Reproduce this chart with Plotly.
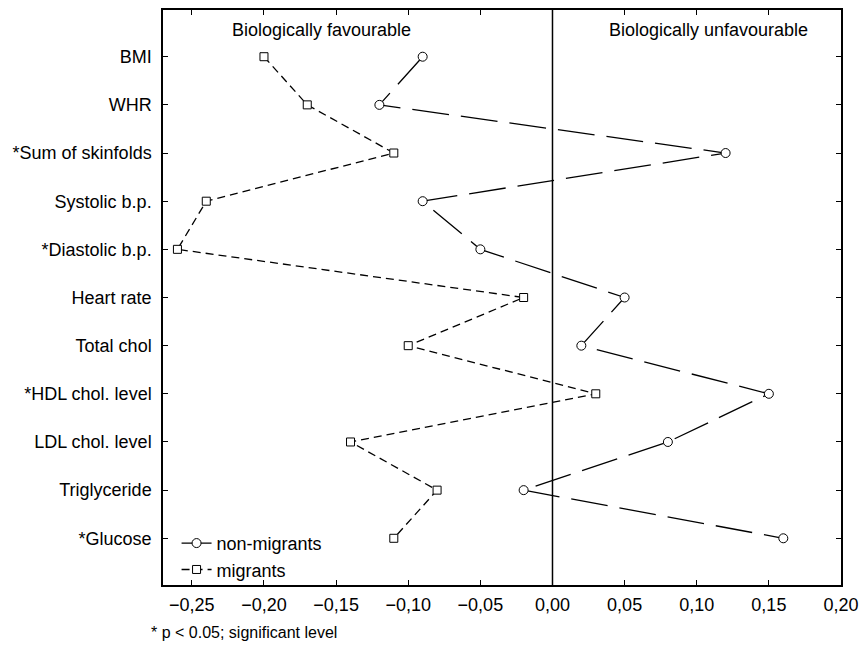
import plotly.graph_objects as go

# Standardised differences per variable (negative = biologically favourable)
variables = [
    "BMI", "WHR", "*Sum of skinfolds", "Systolic b.p.", "*Diastolic b.p.",
    "Heart rate", "Total chol", "*HDL chol. level", "LDL chol. level",
    "Triglyceride", "*Glucose",
]
non_migrants = [-0.09, -0.12, 0.12, -0.09, -0.05, 0.05, 0.02, 0.15, 0.08, -0.02, 0.16]
migrants = [-0.20, -0.17, -0.11, -0.24, -0.26, -0.02, -0.10, 0.03, -0.14, -0.08, -0.11]

FONT = "Liberation Sans, Arial, sans-serif"

fig = go.Figure()

fig.add_trace(go.Scatter(
    x=non_migrants, y=variables, name="non-migrants", mode="lines+markers",
    line=dict(color="black", width=1.3, dash="37px,12px"),
    marker=dict(symbol="circle", size=9, color="white",
                line=dict(color="black", width=1)),
))
fig.add_trace(go.Scatter(
    x=migrants, y=variables, name="migrants", mode="lines+markers",
    line=dict(color="black", width=1.3, dash="8px,5px"),
    marker=dict(symbol="square", size=8, color="white",
                line=dict(color="black", width=1)),
))

# Zero reference line
fig.add_shape(type="line", xref="x", yref="paper", x0=0, x1=0, y0=0, y1=1,
              line=dict(color="black", width=1.5), layer="below")

fig.add_annotation(text="Biologically favourable", x=-0.16, xref="x",
                   y=0.965, yref="paper", yanchor="middle", showarrow=False,
                   font=dict(size=18, color="black", family=FONT))
fig.add_annotation(text="Biologically unfavourable", x=0.108, xref="x",
                   y=0.965, yref="paper", yanchor="middle", showarrow=False,
                   font=dict(size=18, color="black", family=FONT))
fig.add_annotation(text="* p < 0.05; significant level", x=-0.0205, xref="paper",
                   y=-0.083, yref="paper", xanchor="left", yanchor="middle",
                   showarrow=False, font=dict(size=16, color="black", family=FONT))

fig.update_layout(
    width=867, height=646,
    margin=dict(l=163, r=21, t=8, b=61),
    paper_bgcolor="white", plot_bgcolor="white",
    font=dict(family=FONT, size=18, color="black"),
    separators=", ",
    showlegend=True,
    legend=dict(x=0.02, y=-0.005, xanchor="left", yanchor="bottom",
                bgcolor="rgba(0,0,0,0)", traceorder="normal",
                font=dict(size=18, family=FONT), tracegroupgap=0,
                itemwidth=30),
    xaxis=dict(
        range=[-0.27, 0.20], tick0=-0.25, dtick=0.05, tickformat=".2f",
        showgrid=False, zeroline=False, showline=True, linecolor="black",
        linewidth=1.5, mirror="ticks", ticks="inside", ticklen=5,
        tickcolor="black", tickwidth=1.2, ticklabelstandoff=3,
    ),
    yaxis=dict(
        type="category", range=[10.97, -0.97],
        showgrid=False, zeroline=False, showline=True, linecolor="black",
        linewidth=1.5, mirror="ticks", ticks="inside", ticklen=5,
        tickcolor="black", tickwidth=1.2, ticklabelstandoff=6,
    ),
)

fig.write_html("out.html")
